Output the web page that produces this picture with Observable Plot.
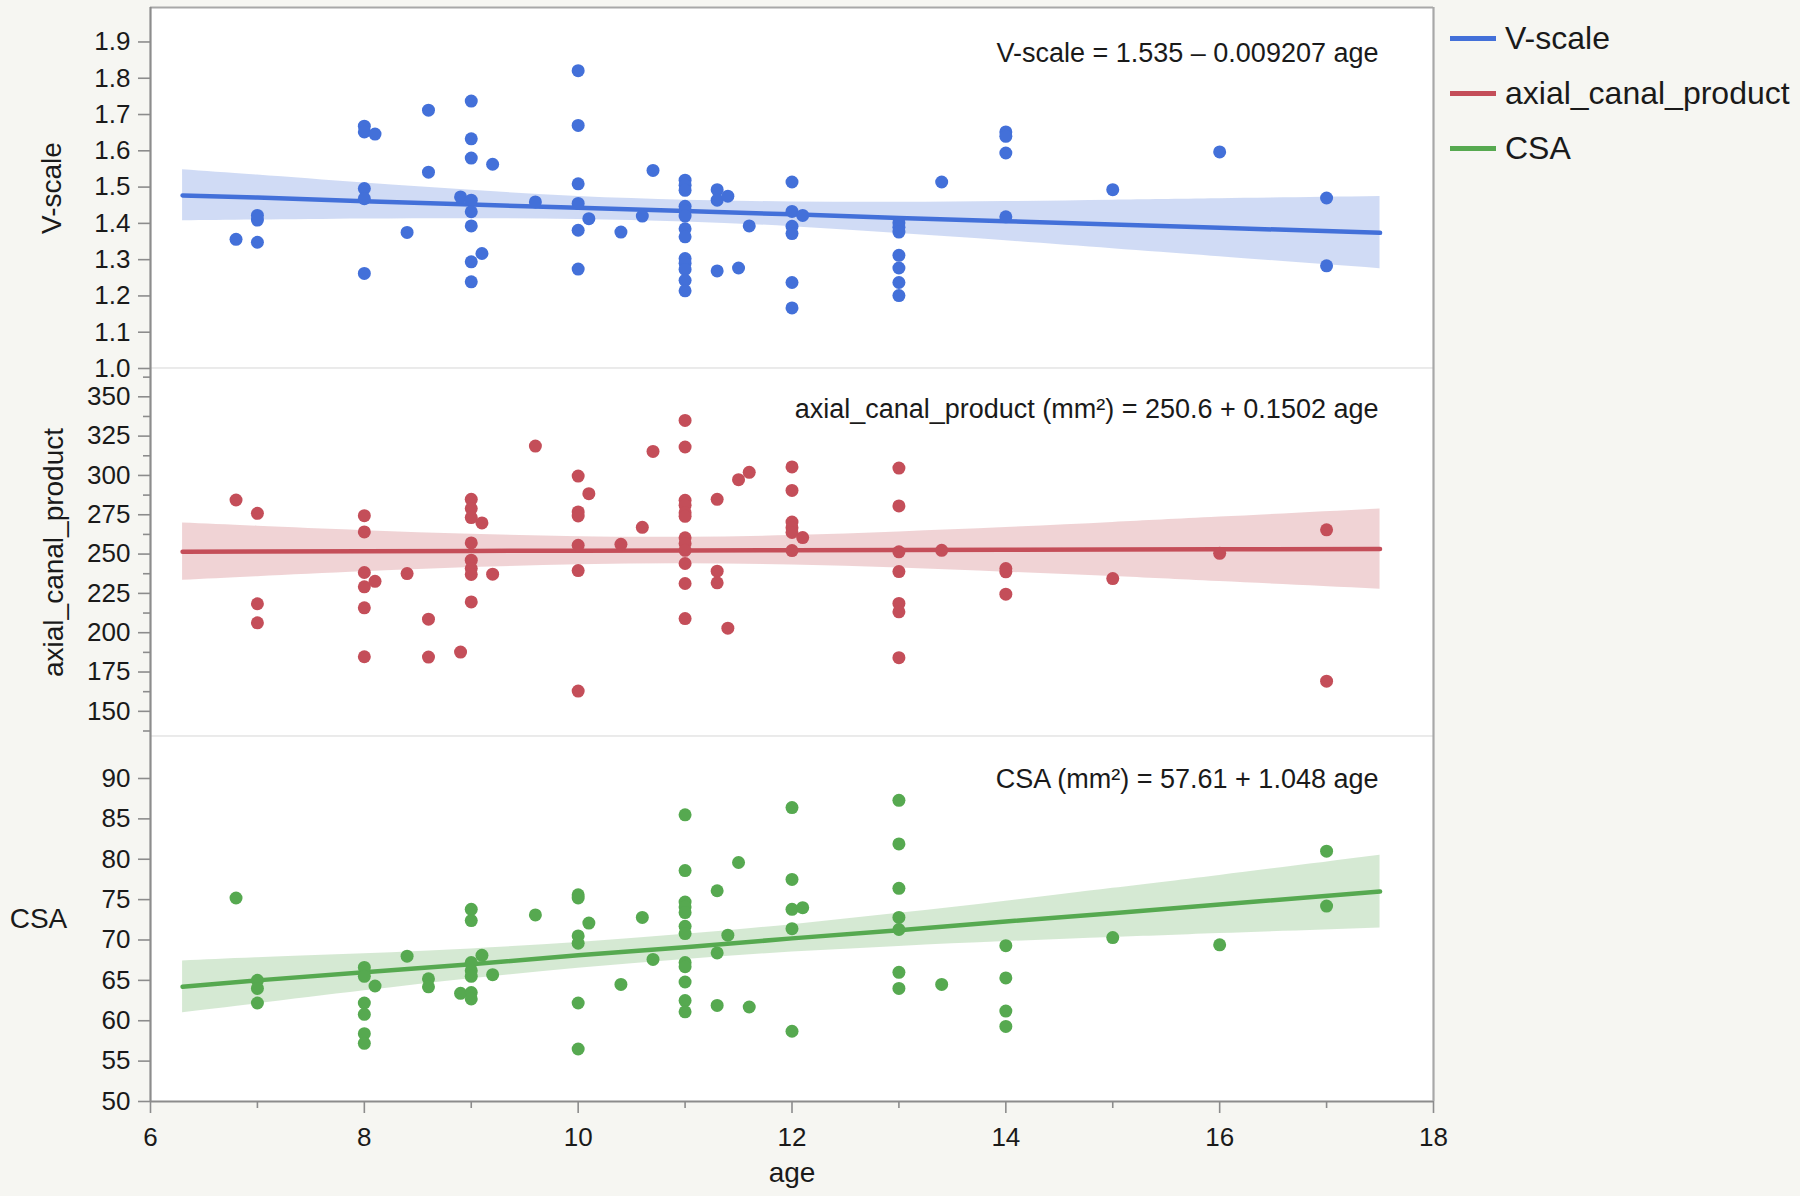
<!DOCTYPE html>
<html>
<head>
<meta charset="utf-8">
<script src="https://cdn.jsdelivr.net/npm/d3@7"></script>
<script src="https://cdn.jsdelivr.net/npm/@observablehq/plot@0.6"></script>
<style>
  body { margin: 0; background: #f6f6f2; }
  #chart { position: relative; width: 1800px; height: 1196px; background: #f6f6f2; font-family: "Liberation Sans", Arial, Helvetica, sans-serif; color: #1a1a1a; }
  .pnl { position: absolute; left: 0; }
  #legend { position: absolute; left: 1450px; top: 11px; font-size: 32px; line-height: 55px; }
  #legend .sw { display: inline-block; width: 46px; height: 5px; vertical-align: middle; margin-right: 9px; position: relative; top: -2px; }
</style>
</head>
<body>
<div id="chart">
  <div id="p1" class="pnl" style="top:0"></div>
  <div id="p2" class="pnl" style="top:368px"></div>
  <div id="p3" class="pnl" style="top:736px"></div>
  <div id="legend"></div>
</div>
<script>
// ---------- data ----------
const seriesNames = ["V-scale", "axial_canal_product", "CSA"];
const seriesColors = ["#4370d9", "#c44e59", "#56a950"];
const equations = [
  "V-scale = 1.535 \u2013 0.009207 age",
  "axial_canal_product (mm\u00b2) = 250.6 + 0.1502 age",
  "CSA (mm\u00b2) = 57.61 + 1.048 age"
];

const xDomain = [6, 18];
const xTicks = [6, 8, 10, 12, 14, 16, 18];
const xMinor = [7, 9, 11, 13, 15, 17];

const vDomain = [1.0, 1.995];
const vTicks = [1.0, 1.1, 1.2, 1.3, 1.4, 1.5, 1.6, 1.7, 1.8, 1.9];
const aDomain = [134, 368];
const aTicks = [150, 175, 200, 225, 250, 275, 300, 325, 350];
const aMinor = [137.5, 162.5, 187.5, 212.5, 237.5, 262.5, 287.5, 312.5, 337.5, 362.5];
const cDomain = [50, 95.2];
const cTicks = [50, 55, 60, 65, 70, 75, 80, 85, 90];

// [age, value]
const vscalePts = [
  [6.8,1.356],[7,1.422],[7,1.409],[7,1.348],
  [8,1.668],[8,1.652],[8,1.496],[8,1.468],[8,1.262],[8.1,1.646],
  [8.4,1.375],[8.6,1.712],[8.6,1.541],[8.9,1.473],
  [9,1.737],[9,1.633],[9,1.580],[9,1.464],[9,1.432],[9,1.393],[9,1.294],[9,1.239],
  [9.1,1.317],[9.2,1.563],[9.6,1.459],
  [10,1.821],[10,1.670],[10,1.509],[10,1.455],[10,1.381],[10,1.274],
  [10.1,1.413],[10.4,1.376],[10.6,1.420],[10.7,1.546],
  [11,1.519],[11,1.505],[11,1.491],[11,1.447],[11,1.434],[11,1.420],[11,1.385],[11,1.363],
  [11,1.303],[11,1.290],[11,1.273],[11,1.243],[11,1.214],
  [11.3,1.493],[11.3,1.464],[11.3,1.269],[11.4,1.475],[11.5,1.277],[11.6,1.393],
  [12,1.514],[12,1.433],[12,1.392],[12,1.372],[12,1.237],[12,1.167],[12.1,1.422],
  [13,1.402],[13,1.389],[13,1.376],[13,1.312],[13,1.277],[13,1.237],[13,1.201],
  [13.4,1.514],[14,1.652],[14,1.640],[14,1.594],[14,1.418],
  [15,1.493],[16,1.597],[17,1.470],[17,1.283]
];
const axialPts = [
  [6.8,284.4],[7,275.9],[7,218.4],[7,206.3],
  [8,274.4],[8,264.1],[8,238.3],[8,229.2],[8,215.8],[8,184.7],[8.1,232.7],
  [8.4,237.6],[8.6,208.6],[8.6,184.5],[8.9,187.7],
  [9,284.8],[9,278.9],[9,273.2],[9,257.1],[9,246.1],[9,240.8],[9,237.0],[9,219.6],
  [9.1,269.8],[9.2,237.2],[9.6,318.7],
  [10,299.6],[10,276.8],[10,274.2],[10,255.6],[10,239.5],[10,162.9],
  [10.1,288.4],[10.4,256.2],[10.6,267.0],[10.7,315.3],
  [11,335.0],[11,318.1],[11,284.2],[11,281.0],[11,276.3],[11,274.0],[11,260.3],[11,256.7],
  [11,252.4],[11,244.0],[11,231.3],[11,209.0],
  [11.3,284.8],[11.3,239.1],[11.3,231.7],[11.4,202.9],[11.5,297.3],[11.6,302.0],
  [12,305.4],[12,290.5],[12,270.4],[12,266.8],[12,263.7],[12,252.2],[12.1,260.5],
  [13,304.7],[13,280.6],[13,251.4],[13,238.9],[13,218.6],[13,213.3],[13,184.1],
  [13.4,252.4],[14,240.8],[14,238.7],[14,224.5],
  [15,234.4],[16,250.5],[17,265.4],[17,169.2]
];
const csaPts = [
  [6.8,75.2],[7,65.0],[7,64.0],[7,62.2],
  [8,66.6],[8,65.5],[8,62.2],[8,60.8],[8,58.4],[8,57.2],[8.1,64.3],
  [8.4,68.0],[8.6,65.2],[8.6,64.2],[8.9,63.4],
  [9,73.8],[9,72.4],[9,67.2],[9,66.2],[9,65.5],[9,63.5],[9,62.7],
  [9.1,68.1],[9.2,65.7],[9.6,73.1],
  [10,75.6],[10,75.2],[10,70.5],[10,69.6],[10,62.2],[10,56.5],
  [10.1,72.1],[10.4,64.5],[10.6,72.8],[10.7,67.6],
  [11,85.5],[11,78.6],[11,74.7],[11,74.1],[11,73.4],[11,71.7],[11,70.8],[11,67.2],[11,66.7],
  [11,64.8],[11,62.5],[11,61.1],
  [11.3,76.1],[11.3,68.4],[11.3,61.9],[11.4,70.6],[11.5,79.6],[11.6,61.7],
  [12,86.4],[12,77.5],[12,73.8],[12,71.4],[12,58.7],[12.1,74.0],
  [13,87.3],[13,81.9],[13,76.4],[13,72.8],[13,71.3],[13,66.0],[13,64.0],
  [13.4,64.5],[14,69.3],[14,65.3],[14,61.2],[14,59.3],
  [15,70.3],[16,69.4],[17,81.0],[17,74.2]
];

// fit line and 95% confidence band, read at these ages
const bandAge = [6.3, 7, 8, 9, 10, 11, 12, 13, 14, 15, 16, 17.5];
const vFit = [1.477,1.471,1.461,1.452,1.443,1.434,1.425,1.415,1.406,1.397,1.388,1.374];
const vLo  = [1.407,1.409,1.412,1.413,1.411,1.404,1.391,1.372,1.352,1.330,1.308,1.275];
const vHi  = [1.548,1.533,1.511,1.491,1.474,1.464,1.459,1.458,1.460,1.464,1.468,1.474];
const aFit = [251.5,251.7,251.8,252.0,252.1,252.3,252.4,252.6,252.7,252.9,253.0,253.2];
const aLo  = [233.3,235.6,238.7,241.4,243.2,243.9,243.0,241.1,238.5,235.7,232.5,227.7];
const aHi  = [269.7,267.7,264.9,262.6,261.0,260.7,261.8,264.1,266.9,270.1,273.5,278.7];
const cFit = [64.2,65.0,66.0,67.0,68.1,69.1,70.2,71.2,72.3,73.3,74.4,76.0];
const cLo  = [61.0,62.1,63.7,65.2,66.5,67.6,68.5,69.2,69.8,70.3,70.8,71.5];
const cHi  = [67.4,67.8,68.3,68.9,69.7,70.7,71.9,73.3,74.8,76.4,78.0,80.5];

// ---------- drawing ----------
const FONT = '"Liberation Sans", Arial, Helvetica, sans-serif';
const INK = "#1a1a1a";
const AXIS_GREY = "#8c8c8c";
const SEP_GREY = "#d6d6d6";

function bandRows(lo, fit, hi) {
  return bandAge.map((a, i) => ({age: a, lo: lo[i], fit: fit[i], hi: hi[i]}));
}

function panel(opts) {
  const {pts, band, color, yDomain, ticks, minor, fmt, eq, eqDy, label, rotate, labelDx,
         height, mt, mb, isBottom, isTop} = opts;
  const marks = [
    Plot.frame({fill: "white", stroke: null}),
    Plot.areaY(band, {x: "age", y1: "lo", y2: "hi", fill: color, fillOpacity: 0.25, curve: "natural"}),
    Plot.line(band, {x: "age", y: "fit", stroke: color, strokeWidth: 4.5}),
    Plot.dot(pts, {x: d => d[0], y: d => d[1], r: 6.5, fill: color, stroke: null}),
    Plot.axisY(ticks, {tickSize: 12, tickPadding: 8, tickFormat: fmt, fontSize: 26, stroke: AXIS_GREY, strokeWidth: 1.6, label: null, fill: INK}),
  ];
  if (minor) marks.push(Plot.axisY(minor, {tickSize: 7, tickFormat: () => "", stroke: AXIS_GREY, strokeWidth: 1.6, label: null}));
  // separators / frame edges
  marks.push(Plot.ruleY([yDomain[0]], {stroke: isBottom ? AXIS_GREY : SEP_GREY, strokeWidth: 2.2}));
  if (isTop) marks.push(Plot.ruleY([yDomain[1]], {stroke: "#a8a8a8", strokeWidth: 2.2}));
  marks.push(Plot.ruleX([xDomain[0]], {stroke: AXIS_GREY, strokeWidth: 2.2}));
  marks.push(Plot.ruleX([xDomain[1]], {stroke: "#a8a8a8", strokeWidth: 2.2}));
  // equation
  marks.push(Plot.text([eq], {text: d => d, frameAnchor: "top-right", dx: -55, dy: eqDy, textAnchor: "end", lineAnchor: "middle", fontSize: 27, fill: INK}));
  // axis title
  marks.push(Plot.text([label], {text: d => d, frameAnchor: "left", dx: labelDx, rotate, textAnchor: "middle", lineAnchor: "middle", fontSize: 28, fill: INK}));
  if (isBottom) {
    marks.push(Plot.axisX(xTicks, {tickSize: 12, tickPadding: 14, fontSize: 26, stroke: AXIS_GREY, strokeWidth: 1.6, label: null, fill: INK}));
    marks.push(Plot.axisX(xMinor, {tickSize: 7, tickFormat: () => "", stroke: AXIS_GREY, strokeWidth: 1.6, label: null}));
    marks.push(Plot.text(["age"], {text: d => d, frameAnchor: "bottom", dy: 72, textAnchor: "middle", lineAnchor: "middle", fontSize: 28, fill: INK}));
  }
  return Plot.plot({
    width: 1800,
    height,
    marginLeft: 150,
    marginRight: 367,
    marginTop: mt,
    marginBottom: mb,
    x: {domain: xDomain, axis: isBottom ? undefined : null},
    y: {domain: yDomain},
    style: {background: "transparent", overflow: "visible", fontFamily: FONT, color: INK},
    marks
  });
}

document.getElementById("p1").append(panel({
  pts: vscalePts, band: bandRows(vLo, vFit, vHi), color: seriesColors[0],
  yDomain: vDomain, ticks: vTicks, fmt: d3.format(".1f"), eq: equations[0], eqDy: 46,
  label: seriesNames[0], rotate: -90, labelDx: -98, height: 368, mt: 7, mb: 0, isTop: true
}));
document.getElementById("p2").append(panel({
  pts: axialPts, band: bandRows(aLo, aFit, aHi), color: seriesColors[1],
  yDomain: aDomain, ticks: aTicks, minor: aMinor, fmt: d3.format("d"), eq: equations[1], eqDy: 41,
  label: seriesNames[1], rotate: -90, labelDx: -96, height: 368, mt: 0, mb: 0
}));
document.getElementById("p3").append(panel({
  pts: csaPts, band: bandRows(cLo, cFit, cHi), color: seriesColors[2],
  yDomain: cDomain, ticks: cTicks, fmt: d3.format("d"), eq: equations[2], eqDy: 43,
  label: seriesNames[2], rotate: 0, labelDx: -112, height: 460, mt: 0, mb: 95, isBottom: true
}));

// legend
const legend = document.getElementById("legend");
seriesNames.forEach((name, i) => {
  const row = document.createElement("div");
  const sw = document.createElement("span");
  sw.className = "sw";
  sw.style.background = seriesColors[i];
  row.append(sw, document.createTextNode(name));
  legend.append(row);
});
</script>
</body>
</html>
